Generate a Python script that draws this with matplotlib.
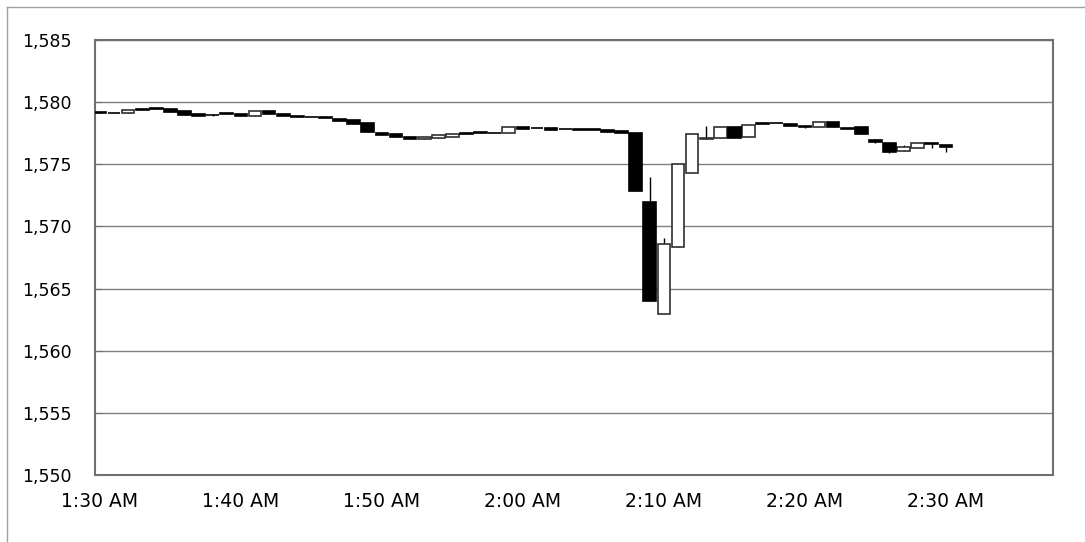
import matplotlib.pyplot as plt
from matplotlib.lines import Line2D
import numpy as np

# one candle per minute, starting at 1:30 AM
minutes = np.arange(61)
opens = [1579.20, 1579.15, 1579.15, 1579.45, 1579.52, 1579.42, 1579.29, 1579.02, 1578.95, 1579.10,
         1579.03, 1578.91, 1579.29, 1579.03, 1578.88, 1578.82, 1578.77, 1578.67, 1578.56, 1578.30,
         1577.54, 1577.44, 1577.22, 1577.01, 1577.12, 1577.22, 1577.52, 1577.57, 1577.55, 1577.50,
         1577.98, 1577.92, 1577.90, 1577.86, 1577.82, 1577.80, 1577.78, 1577.68, 1577.54, 1572.00,
         1562.96, 1568.37, 1574.33, 1577.01, 1577.14, 1577.98, 1577.22, 1578.30, 1578.35, 1578.24,
         1578.05, 1578.00, 1578.40, 1577.95, 1577.98, 1576.95, 1576.74, 1576.07, 1576.34, 1576.75,
         1576.58]
closes = [1579.15, 1579.10, 1579.37, 1579.38, 1579.42, 1579.23, 1578.97, 1578.90, 1578.93, 1579.02,
          1578.90, 1579.29, 1579.02, 1578.86, 1578.84, 1578.78, 1578.72, 1578.48, 1578.21, 1577.57,
          1577.36, 1577.22, 1577.01, 1577.22, 1577.33, 1577.45, 1577.46, 1577.53, 1577.51, 1577.98,
          1577.82, 1577.88, 1577.77, 1577.82, 1577.78, 1577.76, 1577.62, 1577.49, 1572.85, 1564.03,
          1568.56, 1575.00, 1577.41, 1577.14, 1578.03, 1577.14, 1578.16, 1578.22, 1578.30, 1578.10,
          1578.00, 1578.40, 1578.00, 1577.85, 1577.44, 1576.80, 1576.01, 1576.42, 1576.69, 1576.62,
          1576.37]
highs = [1579.20, 1579.15, 1579.37, 1579.45, 1579.52, 1579.42, 1579.29, 1579.02, 1579.05, 1579.10,
         1579.03, 1579.29, 1579.29, 1579.03, 1578.88, 1578.82, 1578.77, 1578.67, 1578.56, 1578.30,
         1577.54, 1577.44, 1577.22, 1577.22, 1577.33, 1577.45, 1577.52, 1577.57, 1577.55, 1577.98,
         1577.98, 1577.92, 1577.90, 1577.86, 1577.86, 1577.80, 1577.78, 1577.68, 1577.54, 1574.00,
         1569.10, 1575.00, 1577.41, 1578.08, 1578.03, 1577.98, 1578.16, 1578.30, 1578.35, 1578.24,
         1578.12, 1578.40, 1578.40, 1577.95, 1577.98, 1577.03, 1576.74, 1576.55, 1576.69, 1576.75,
         1576.58]
lows = [1579.15, 1579.10, 1579.15, 1579.38, 1579.42, 1579.23, 1578.97, 1578.90, 1578.88, 1579.02,
        1578.90, 1578.91, 1579.02, 1578.86, 1578.84, 1578.78, 1578.72, 1578.48, 1578.21, 1577.57,
        1577.36, 1577.22, 1577.01, 1577.01, 1577.12, 1577.22, 1577.46, 1577.53, 1577.51, 1577.50,
        1577.82, 1577.88, 1577.77, 1577.82, 1577.72, 1577.76, 1577.62, 1577.49, 1572.85, 1564.03,
        1562.96, 1568.37, 1574.33, 1577.01, 1577.14, 1577.14, 1577.22, 1578.22, 1578.30, 1578.10,
        1577.95, 1578.00, 1578.00, 1577.85, 1577.44, 1576.70, 1575.90, 1576.07, 1576.34, 1576.29,
        1576.00]
tick_minutes = [0, 10, 20, 30, 40, 50, 60]
tick_labels = ['1:30 AM', '1:40 AM', '1:50 AM', '2:00 AM', '2:10 AM', '2:20 AM', '2:30 AM']

fig = plt.figure(figsize=(10.85, 5.42), dpi=100)
ax = fig.add_axes([95 / 1085, 1 - 475 / 542, (1053 - 95) / 1085, (475 - 40) / 542])

# outer chart border (left / top)
fig.add_artist(Line2D([7 / 1085, 7 / 1085], [0, 1 - 7 / 542], color='#a0a0a0', lw=1))
fig.add_artist(Line2D([7 / 1085, 1], [1 - 7 / 542, 1 - 7 / 542], color='#a0a0a0', lw=1))

o = np.array(opens)
c = np.array(closes)
up = c >= o
ax.vlines(minutes, lows, highs, color='black', lw=1, zorder=2)
ax.bar(minutes[up], (c - o)[up], bottom=o[up], width=0.9, color='white',
       edgecolor='#303030', lw=1.2, zorder=3)
ax.bar(minutes[~up], (c - o)[~up], bottom=o[~up], width=0.9, color='black',
       edgecolor='black', lw=1.2, zorder=3)

ax.set_xlim(-0.35, 67.6)
ax.set_ylim(1550, 1585)
ax.set_yticks(np.arange(1550, 1586, 5))
ax.set_yticklabels(['{:,}'.format(v) for v in range(1550, 1586, 5)])
ax.set_xticks(tick_minutes)
ax.set_xticklabels(tick_labels)
ax.grid(axis='y', color='#808080', lw=1)
ax.set_axisbelow(True)
for s in ax.spines.values():
    s.set_color('#707070')
    s.set_linewidth(1.5)
ax.tick_params(axis='y', direction='in', length=5, color='#707070', pad=17, labelsize=12.5)
ax.tick_params(axis='x', length=0, pad=12, labelsize=13.5)

plt.savefig('out.png')
